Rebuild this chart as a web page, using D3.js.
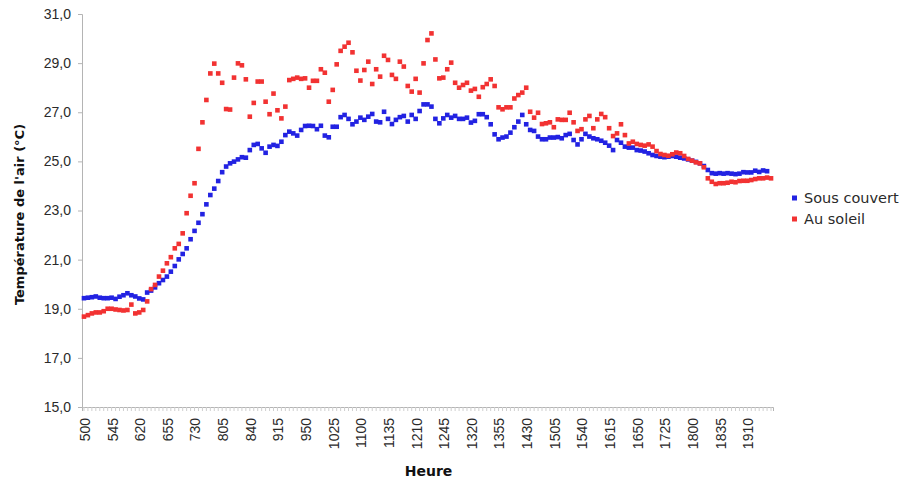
<!DOCTYPE html>
<html>
<head>
<meta charset="utf-8">
<script src="https://cdn.jsdelivr.net/npm/d3@7"></script>
<style>
  html, body { margin: 0; padding: 0; background: #ffffff; }
  svg { display: block; font-family: "DejaVu Sans", Verdana, sans-serif; }
</style>
</head>
<body>
<svg id="chart" width="910" height="486"></svg>
<script>
// Relevés de température de l'air, toutes les 5 minutes (premier relevé à 5 h 00)
const firstTime = "500";
const startMinutes = 5 * 60 + 15;   // 5 h 15
const endMinutes = 19 * 60 + 40;    // 19 h 40
const stepMinutes = 5;

// Étiquettes affichées sur l'axe des abscisses
const tickLabels = ["500","545","620","655","730","805","840","915","950","1025","1100","1135",
  "1210","1245","1320","1355","1430","1505","1540","1615","1650","1725","1800","1835","1910"];

// Graduations de l'axe des ordonnées (°C)
const yTicks = [15, 17, 19, 21, 23, 25, 27, 29, 31];

const seriesNames = ["Sous couvert", "Au soleil"];
const seriesColors = ["#2222e2", "#f23232"];

// Sous couvert (°C)
const sousCouvert = [
  19.43,19.45,19.47,19.5,19.45,19.43,19.43,19.45,19.4,19.49,
  19.55,19.63,19.55,19.5,19.42,19.38,19.66,19.74,19.87,20.04,
  20.17,20.31,20.51,20.74,21.01,21.23,21.46,21.83,22.17,22.5,
  22.85,23.25,23.63,23.89,24.2,24.56,24.79,24.92,24.99,25.08,
  25.17,25.15,25.46,25.67,25.71,25.53,25.35,25.6,25.67,25.63,
  25.8,26.07,26.21,26.14,26.05,26.28,26.44,26.45,26.44,26.31,
  26.45,26.05,25.98,26.41,26.41,26.8,26.89,26.73,26.51,26.62,
  26.78,26.69,26.82,26.93,26.62,26.59,27.02,26.73,26.52,26.69,
  26.8,26.85,26.62,26.89,26.73,27.05,27.32,27.32,27.23,26.73,
  26.55,26.75,26.89,26.78,26.85,26.73,26.73,26.78,26.58,26.65,
  26.92,26.92,26.8,26.51,26.1,25.9,25.97,26.01,26.17,26.39,
  26.62,26.89,26.51,26.28,26.24,26.01,25.9,25.9,25.97,25.97,
  25.99,25.94,26.07,26.12,25.87,25.69,25.9,26.12,26.01,25.94,
  25.9,25.84,25.76,25.64,25.46,25.87,25.76,25.6,25.56,25.56,
  25.46,25.44,25.4,25.33,25.26,25.22,25.19,25.17,25.19,25.22,
  25.19,25.15,25.12,25.08,25.03,24.98,24.92,24.81,24.65,24.52,
  24.5,24.52,24.5,24.52,24.5,24.48,24.5,24.56,24.55,24.55,
  24.62,24.57,24.63,24.6
];

// Au soleil (°C)
const auSoleil = [
  18.68,18.74,18.81,18.85,18.85,18.9,19.0,19.0,18.97,18.95,
  18.93,18.95,19.17,18.81,18.85,18.95,19.3,19.8,19.97,20.31,
  20.55,20.85,21.1,21.46,21.64,22.07,22.89,23.6,24.11,25.51,
  26.59,27.5,28.58,28.98,28.58,28.2,27.13,27.11,28.41,28.99,
  28.91,28.34,26.82,27.38,28.25,28.25,27.43,26.92,27.76,27.08,
  26.75,27.23,28.31,28.36,28.41,28.36,28.38,28.0,28.28,28.28,
  28.75,28.61,27.43,27.91,28.95,29.5,29.67,29.83,29.44,28.69,
  28.29,28.72,29.06,28.15,28.75,28.45,29.3,29.13,28.52,28.36,
  29.06,28.86,28.07,27.84,28.36,27.8,28.99,29.94,30.21,29.15,
  28.38,28.41,28.75,29.02,28.2,28.0,28.11,28.2,27.88,27.95,
  27.63,28.02,28.15,28.34,28.07,27.2,27.12,27.2,27.2,27.56,
  27.7,27.8,28.0,27.02,26.78,26.98,26.52,26.55,26.59,26.39,
  26.71,26.69,26.69,26.98,26.59,26.24,26.31,26.71,26.85,26.35,
  26.71,26.93,26.8,26.35,26.03,26.14,26.51,26.07,25.73,25.8,
  25.71,25.67,25.64,25.69,25.6,25.42,25.3,25.26,25.23,25.29,
  25.36,25.33,25.22,25.1,25.03,24.96,24.92,24.76,24.31,24.17,
  24.08,24.11,24.11,24.13,24.17,24.15,24.2,24.21,24.21,24.24,
  24.28,24.31,24.31,24.34,24.31
];

// Catégories horaires au format hmm ("500", "515", ..., "1940")
const categories = [firstTime];
for (let m = startMinutes; m <= endMinutes; m += stepMinutes) {
  categories.push(String(Math.floor(m / 60) * 100 + (m % 60)));
}

const svg = d3.select("#chart");
const plot = { left: 82, right: 773, top: 14, bottom: 407 };

const x = d3.scaleBand().domain(categories).range([plot.left, plot.right]).padding(0);
const y = d3.scaleLinear().domain([15, 31]).range([plot.bottom, plot.top]);
const cx = c => x(c) + x.bandwidth() / 2;

const axisColor = "#b4b4b4";
const textColor = "#2a2a2a";

// Axe des ordonnées
const yAxis = svg.append("g")
  .attr("transform", `translate(${plot.left},0)`)
  .call(d3.axisLeft(y)
    .tickValues(yTicks)
    .tickSize(4)
    .tickPadding(7)
    .tickFormat(d => d3.format(".1f")(d).replace(".", ",")));
yAxis.select(".domain").attr("stroke", axisColor);
yAxis.selectAll(".tick line").attr("stroke", axisColor);
yAxis.selectAll(".tick text")
  .attr("fill", textColor)
  .style("font-size", "14px");

// Graduations de l'axe des abscisses (une par relevé)
const xTicks = svg.append("g")
  .attr("transform", `translate(0,${plot.bottom})`)
  .call(d3.axisBottom(x).tickSize(4).tickFormat(""));
xTicks.select(".domain").attr("stroke", axisColor);
xTicks.selectAll(".tick line").attr("stroke", "#cfcfcf");

// Étiquettes horaires verticales
const xLabels = svg.append("g")
  .attr("transform", `translate(0,${plot.bottom})`)
  .call(d3.axisBottom(x).tickValues(tickLabels).tickSize(0));
xLabels.select(".domain").remove();
xLabels.selectAll(".tick text")
  .attr("transform", "rotate(-90)")
  .attr("text-anchor", "end")
  .attr("x", -11)
  .attr("y", 1)
  .attr("dy", "0.35em")
  .attr("fill", textColor)
  .style("font-size", "14px");

// Titres des axes
svg.append("text")
  .attr("transform", `translate(24,${(plot.top + plot.bottom) / 2 + 4}) rotate(-90)`)
  .attr("text-anchor", "middle")
  .attr("font-weight", "bold")
  .attr("font-size", "13px")
  .attr("fill", "#111")
  .text("Température de l'air (°C)");

svg.append("text")
  .attr("x", (plot.left + plot.right) / 2 + 1)
  .attr("y", 476)
  .attr("text-anchor", "middle")
  .attr("font-weight", "bold")
  .attr("font-size", "14px")
  .attr("fill", "#111")
  .text("Heure");

// Points des deux séries
const series = [sousCouvert, auSoleil];
const markSize = 4.6;
series.forEach((values, s) => {
  svg.append("g")
    .selectAll("rect")
    .data(values.map((v, i) => ({ cat: categories[i], v })))
    .join("rect")
    .attr("x", d => cx(d.cat) - markSize / 2)
    .attr("y", d => y(d.v) - markSize / 2)
    .attr("width", markSize)
    .attr("height", markSize)
    .attr("fill", seriesColors[s]);
});

// Légende
const legend = svg.append("g").attr("transform", "translate(792,198)");
seriesNames.forEach((name, s) => {
  const g = legend.append("g").attr("transform", `translate(0,${s * 21})`);
  g.append("rect")
    .attr("x", 0).attr("y", -2.5)
    .attr("width", 5).attr("height", 5)
    .attr("fill", seriesColors[s]);
  g.append("text")
    .attr("x", 12).attr("y", 0)
    .attr("dy", "0.35em")
    .attr("font-size", "14.5px")
    .attr("fill", textColor)
    .text(name);
});
</script>
</body>
</html>
